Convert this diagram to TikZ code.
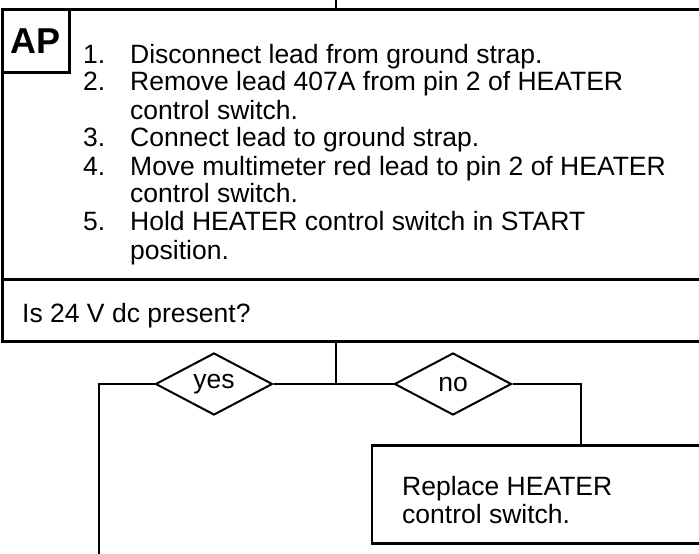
\documentclass[tikz,border=0pt]{standalone}
\usepackage{fontspec}
\setmainfont{Liberation Sans}
\usetikzlibrary{shapes.geometric}

\begin{document}
\begin{tikzpicture}[x=1pt,y=-1pt,
  font=\fontsize{26.5}{28}\selectfont,
  box/.style={draw,line width=2.6pt,rectangle,inner sep=0pt,anchor=north west},
  choice/.style={draw,line width=2pt,diamond,inner sep=0pt,minimum width=117pt,minimum height=62pt},
  txt/.style={anchor=base west,inner sep=0pt},
  link/.style={line width=2pt}]
\clip (0,0) rectangle (699,554);
\node[box,minimum width=719pt,minimum height=270pt] (steps) at (1,8) {};
\node[box,minimum width=719pt,minimum height=62pt] (question) at (1,278) {};
\node[box,minimum width=67pt,minimum height=63pt,font=\fontsize{36}{38}\selectfont\bfseries] (AP) at (1,8) {AP};
\node[box,minimum width=340pt,minimum height=98pt] (replace) at (370.5,444) {};
\node[txt] (steplist) at (83,63) {\begin{tabular}[t]{@{}p{47pt}@{}l@{}}
1. & Disconnect lead from ground strap.\\
2. & Remove lead 407A from pin 2 of HEATER\\
   & control switch.\\
3. & Connect lead to ground strap.\\
4. & Move multimeter red lead to pin 2 of HEATER\\
   & control switch.\\
5. & Hold HEATER control switch in START\\
   & position.
\end{tabular}};
\node[txt] (ask) at (22,322) {Is 24 V dc present?};
\node[txt] (fix) at (402,495) {\begin{tabular}[t]{@{}l@{}}
Replace HEATER\\
control switch.
\end{tabular}};
\node[choice] (yes) at (214,384) {yes};
\node[choice] (no) at (453,384) {no};
\coordinate (top) at (336,-5);
\coordinate (split) at (336,384);
\coordinate (yesout) at (99,560);
\coordinate (noin) at (581,444);
\draw[link] (top) -- (top |- steps.north);
\draw[link] (question.south -| split) -- (split);
\draw[link] (yes.east) -- (split) -- (no.west);
\draw[link] (yes.west) -| (yesout);
\draw[link] (no.east) -| (noin);
\end{tikzpicture}
\end{document}
